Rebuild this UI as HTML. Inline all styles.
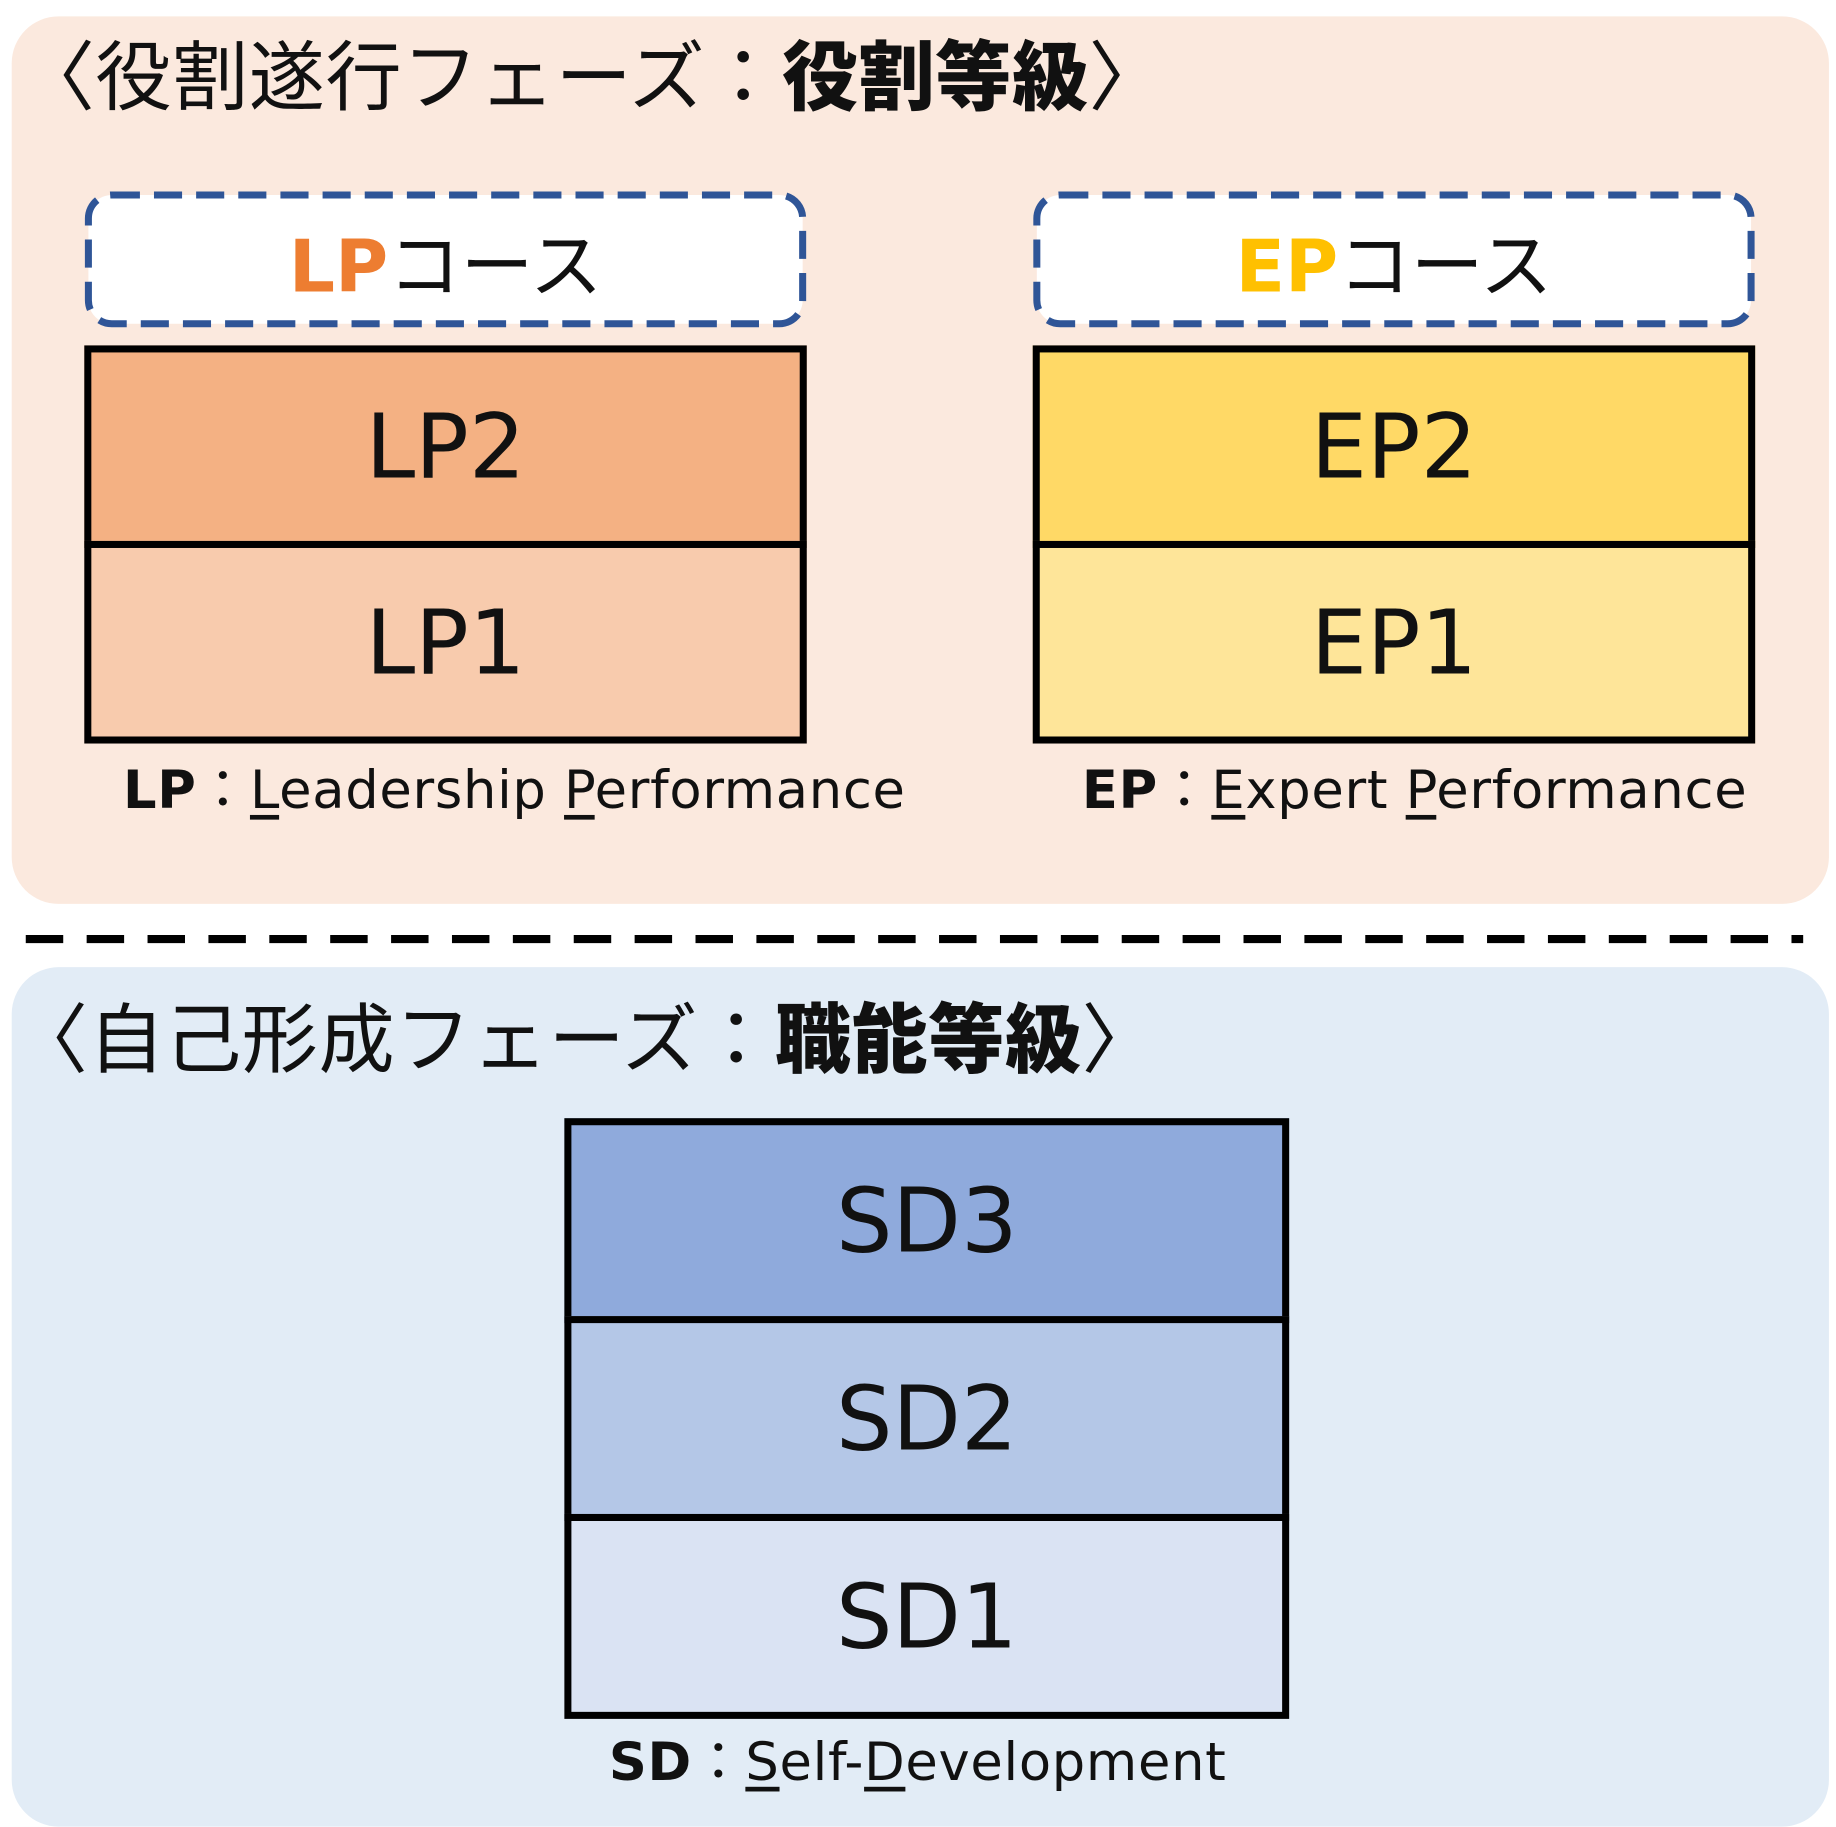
<!DOCTYPE html>
<html><head><meta charset="utf-8"><style>
html,body{margin:0;padding:0;background:#fff;}
body{width:1836px;height:1827px;overflow:hidden;}
#w{position:absolute;left:0;top:0;width:1568px;height:1560px;transform:scale(1.1709);transform-origin:0 0;font-family:"DejaVu Sans","Noto Sans CJK JP",sans-serif;color:#111;}
.a{position:absolute;box-sizing:border-box;}
.panel{border-radius:40px;}
.title{position:absolute;font-size:65px;white-space:nowrap;font-family:"Noto Sans CJK JP",sans-serif;line-height:1;letter-spacing:0.5px;}
.title b{font-weight:900;}
.dash{display:flex;align-items:center;justify-content:center;font-size:62px;font-family:"DejaVu Sans","Noto Sans CJK JP",sans-serif;}
.dash svg{position:absolute;left:0;top:0;}
.dash span{position:relative;}
.box{border:6px solid #000;display:flex;align-items:center;justify-content:center;font-size:76px;}
.cap{position:absolute;font-size:45px;white-space:nowrap;line-height:1;letter-spacing:0.6px;}
.cap u{text-decoration-thickness:4px;text-underline-offset:6px;}
</style></head><body><div id="w">
<div class="a panel" style="left:10px;top:14px;width:1552px;height:758px;background:#fbe9de"></div>
<div class="a panel" style="left:10px;top:826px;width:1552px;height:734px;background:#e2ecf6"></div>
<svg class="a" style="left:0;top:796px" width="1568" height="12"><line x1="22" y1="6" x2="1540" y2="6" stroke="#000" stroke-width="7" stroke-dasharray="32 20"/></svg>
<div class="title" style="left:16px;top:29px">〈役割遂行フェーズ：<b>役割等級</b>〉</div>
<div class="title" style="left:10px;top:851px">〈自己形成フェーズ：<b>職能等級</b>〉</div>

<div class="a dash" style="left:72px;top:163px;width:617px;height:117px"><svg width="617" height="117"><rect x="3.5" y="3.5" width="610" height="110" rx="20" fill="#fff" stroke="#2f5597" stroke-width="6" stroke-dasharray="24 12"/></svg><span><b style="color:#ed7d31">LP</b>コース</span></div>
<div class="a box" style="left:72px;top:295px;width:617px;height:173px;background:#f4b183">LP2</div>
<div class="a box" style="left:72px;top:462px;width:617px;height:173px;background:#f8cbad">LP1</div>
<div class="cap" style="left:105px;top:652px"><b>LP</b>：<u>L</u>eadership <u>P</u>erformance</div>

<div class="a dash" style="left:882px;top:163px;width:617px;height:117px"><svg width="617" height="117"><rect x="3.5" y="3.5" width="610" height="110" rx="20" fill="#fff" stroke="#2f5597" stroke-width="6" stroke-dasharray="24 12"/></svg><span><b style="color:#ffc000">EP</b>コース</span></div>
<div class="a box" style="left:882px;top:295px;width:617px;height:173px;background:#ffd966">EP2</div>
<div class="a box" style="left:882px;top:462px;width:617px;height:173px;background:#fee599">EP1</div>
<div class="cap" style="left:924px;top:652px"><b>EP</b>：<u>E</u>xpert <u>P</u>erformance</div>

<div class="a box" style="left:482px;top:955px;width:619px;height:175px;background:#8faadc">SD3</div>
<div class="a box" style="left:482px;top:1124px;width:619px;height:175px;background:#b4c7e7">SD2</div>
<div class="a box" style="left:482px;top:1293px;width:619px;height:175px;background:#dae3f3">SD1</div>
<div class="cap" style="left:520px;top:1482px"><b>SD</b>：<u>S</u>elf-<u>D</u>evelopment</div>
</div></body></html>
